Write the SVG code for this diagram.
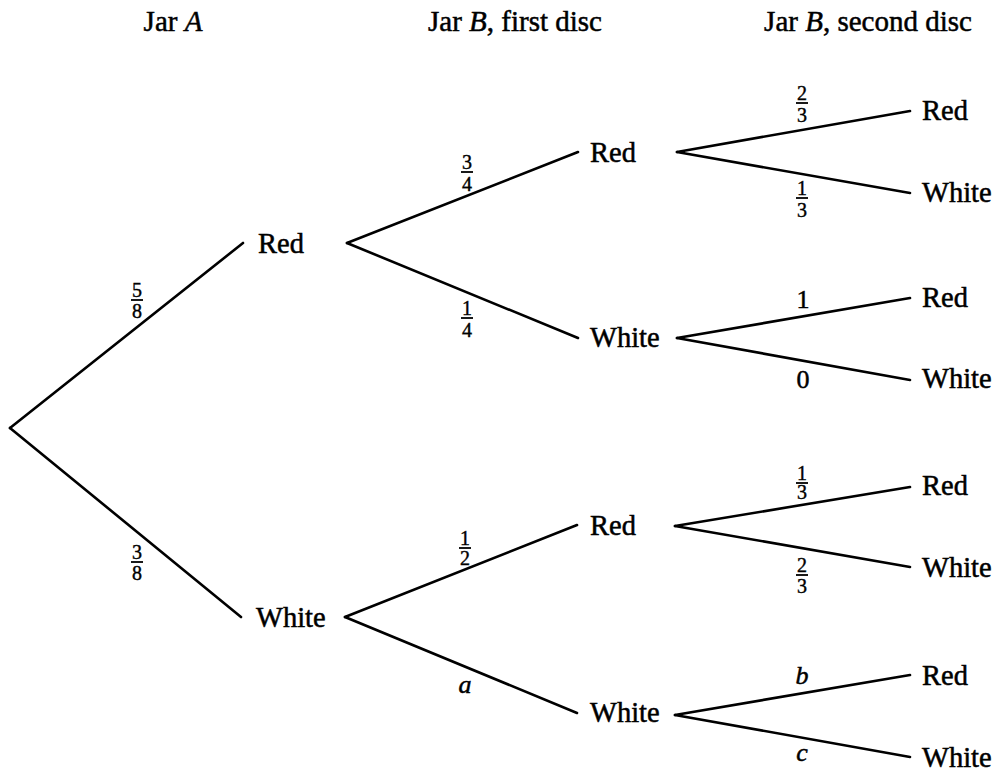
<svg xmlns="http://www.w3.org/2000/svg" width="997" height="772" viewBox="0 0 997 772">
<style>
text { font-family: "Liberation Serif", "Times New Roman", serif; fill: #000; stroke: #000; stroke-width: 0.5; }
.hd { font-size: 29px; text-anchor: middle; }
.nd { font-size: 28.5px; }
.fr { font-size: 20px; text-anchor: middle; stroke-width: 0.4; }
.lb { font-size: 26px; text-anchor: middle; }
.it { font-style: italic; }
.bar { stroke: #000; stroke-width: 1.8; }
#connectors line { stroke: #000; stroke-width: 2.6; stroke-linecap: round; }
</style>
<rect width="997" height="772" fill="#fff"/>

<g id="headers">
<text class="hd" x="173" y="31">Jar <tspan class="it">A</tspan></text>
<text class="hd" x="515" y="31">Jar <tspan class="it">B</tspan>, first disc</text>
<text class="hd" x="868" y="31">Jar <tspan class="it">B</tspan>, second disc</text>
</g>

<g id="connectors">
<line x1="10" y1="428" x2="243" y2="243"/>
<line x1="10" y1="428" x2="241" y2="617"/>
<line x1="347" y1="243" x2="578" y2="152"/>
<line x1="347" y1="243" x2="578" y2="338"/>
<line x1="345" y1="617" x2="577" y2="525"/>
<line x1="345" y1="617" x2="577" y2="713"/>
<line x1="677" y1="152" x2="910" y2="111"/>
<line x1="677" y1="152" x2="910" y2="193"/>
<line x1="677" y1="338" x2="910" y2="298"/>
<line x1="677" y1="338" x2="910" y2="380"/>
<line x1="675" y1="526" x2="910" y2="487"/>
<line x1="675" y1="526" x2="910" y2="567"/>
<line x1="675" y1="715" x2="910" y2="675"/>
<line x1="675" y1="715" x2="910" y2="757"/>
</g>

<g id="edge-labels">
<g id="p-5-8"><text class="fr" x="137" y="297">5</text><line class="bar" x1="131" y1="300" x2="143" y2="300"/><text class="fr" x="137" y="318">8</text></g>
<g id="p-3-8"><text class="fr" x="137" y="559">3</text><line class="bar" x1="131" y1="562" x2="143" y2="562"/><text class="fr" x="137" y="580">8</text></g>
<g id="p-3-4"><text class="fr" x="467" y="169">3</text><line class="bar" x1="461" y1="172" x2="473" y2="172"/><text class="fr" x="467" y="191">4</text></g>
<g id="p-1-4"><text class="fr" x="467" y="315">1</text><line class="bar" x1="461" y1="318" x2="473" y2="318"/><text class="fr" x="467" y="337">4</text></g>
<g id="p-1-2"><text class="fr" x="465" y="545">1</text><line class="bar" x1="459" y1="548" x2="471" y2="548"/><text class="fr" x="465" y="565">2</text></g>
<text class="lb it" x="465" y="693">a</text>
<g id="p-2-3a"><text class="fr" x="802" y="100">2</text><line class="bar" x1="796" y1="103" x2="808" y2="103"/><text class="fr" x="802" y="122">3</text></g>
<g id="p-1-3a"><text class="fr" x="802" y="195">1</text><line class="bar" x1="796" y1="198" x2="808" y2="198"/><text class="fr" x="802" y="217">3</text></g>
<text class="lb" x="803" y="308">1</text>
<text class="lb" x="803" y="388">0</text>
<g id="p-1-3b"><text class="fr" x="802" y="480">1</text><line class="bar" x1="796" y1="483" x2="808" y2="483"/><text class="fr" x="802" y="499">3</text></g>
<g id="p-2-3b"><text class="fr" x="802" y="572">2</text><line class="bar" x1="796" y1="575" x2="808" y2="575"/><text class="fr" x="802" y="593">3</text></g>
<text class="lb it" x="802" y="684">b</text>
<text class="lb it" x="802" y="761">c</text>
</g>

<g id="n-A-red"><text class="nd" x="258" y="253">Red</text></g>
<g id="n-A-white"><text class="nd" x="256" y="627">White</text></g>
<g id="n-B1-red-red"><text class="nd" x="590" y="162">Red</text></g>
<g id="n-B1-red-white"><text class="nd" x="590" y="347">White</text></g>
<g id="n-B1-white-red"><text class="nd" x="590" y="535">Red</text></g>
<g id="n-B1-white-white"><text class="nd" x="590" y="722">White</text></g>
<g id="n-B2-1"><text class="nd" x="922" y="120">Red</text></g>
<g id="n-B2-2"><text class="nd" x="922" y="202">White</text></g>
<g id="n-B2-3"><text class="nd" x="922" y="307">Red</text></g>
<g id="n-B2-4"><text class="nd" x="922" y="388">White</text></g>
<g id="n-B2-5"><text class="nd" x="922" y="495">Red</text></g>
<g id="n-B2-6"><text class="nd" x="922" y="577">White</text></g>
<g id="n-B2-7"><text class="nd" x="922" y="685">Red</text></g>
<g id="n-B2-8"><text class="nd" x="922" y="767">White</text></g>
</svg>
